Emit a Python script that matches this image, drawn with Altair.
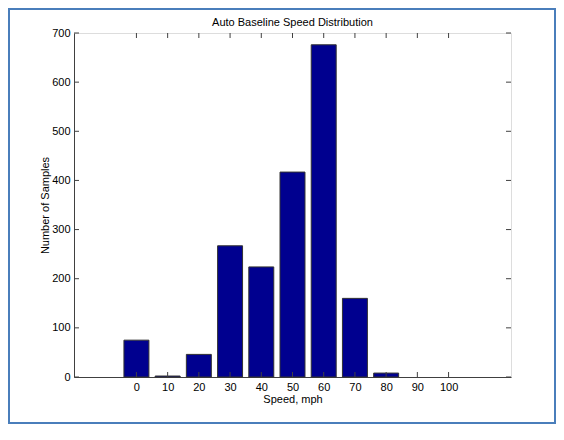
import altair as alt
import pandas as pd

speeds = [0, 10, 20, 30, 40, 50, 60, 70, 80, 90, 100]
samples = [75, 2, 46, 267, 224, 417, 676, 160, 8, 0, 0]
x_ticks = [0, 10, 20, 30, 40, 50, 60, 70, 80, 90, 100]
y_ticks = [0, 100, 200, 300, 400, 500, 600, 700]
title_text = ["Auto Baseline Speed Distribution"]

W, H = 437, 344
FONT = "Liberation Sans"
AXC = "#404040"

bars_df = pd.DataFrame({"speed": speeds, "samples": samples})
xt_df = pd.DataFrame({"t": x_ticks})
yt_df = pd.DataFrame({"t": y_ticks})

xscale = alt.Scale(domain=[-20, 120], nice=False, zero=False)
yscale = alt.Scale(domain=[0, 700], nice=False)

bars = alt.Chart(bars_df).transform_filter("datum.samples > 0").transform_calculate(
    x0="datum.speed - 4", x1="datum.speed + 4"
).mark_bar(color="#00008F", stroke="#333333", strokeWidth=1).encode(
    x=alt.X("x0:Q", scale=xscale,
            axis=alt.Axis(values=x_ticks, title="Speed, mph", ticks=False,
                          labelFont=FONT, labelFontSize=11, labelColor="black",
                          titleFont=FONT, titleFontSize=11, titleFontWeight="normal",
                          titleColor="black", labelPadding=4, titlePadding=1,
                          domainColor=AXC, grid=False)),
    x2="x1:Q",
    y=alt.Y("samples:Q", scale=yscale,
            axis=alt.Axis(values=y_ticks, title="Number of Samples", ticks=False,
                          labelFont=FONT, labelFontSize=11, labelColor="black",
                          titleFont=FONT, titleFontSize=11, titleFontWeight="normal",
                          titleColor="black", labelPadding=4, titlePadding=1,
                          domainColor=AXC, grid=False)),
    y2=alt.datum(0),
)

xt_bottom = alt.Chart(xt_df).mark_rule(color=AXC).encode(
    x=alt.X("t:Q", scale=xscale), y=alt.value(H), y2=alt.value(H - 5))
xt_top = alt.Chart(xt_df).mark_rule(color=AXC).encode(
    x=alt.X("t:Q", scale=xscale), y=alt.value(0), y2=alt.value(5))
yt_left = alt.Chart(yt_df).mark_rule(color=AXC).encode(
    y=alt.Y("t:Q", scale=yscale), x=alt.value(0), x2=alt.value(5))
yt_right = alt.Chart(yt_df).mark_rule(color=AXC).encode(
    y=alt.Y("t:Q", scale=yscale), x=alt.value(W), x2=alt.value(W - 5))

frame = alt.Chart(pd.DataFrame({"a": [0]})).mark_rect(
    fill=None, stroke="#4a7ebb", strokeWidth=2).encode(
    x=alt.value(-65), x2=alt.value(481), y=alt.value(-24), y2=alt.value(390))

title = alt.Chart(pd.DataFrame({"t": title_text})).mark_text(
    font=FONT, fontSize=11, color="black", baseline="alphabetic", align="center"
).encode(text="t:N", x=alt.value(W / 2), y=alt.value(-7))

chart = alt.layer(frame, bars, xt_bottom, xt_top, yt_left, yt_right, title).properties(
    width=W, height=H,
    autosize=alt.AutoSizeParams(type="none"),
    padding={"left": 66, "top": 25, "right": 45, "bottom": 48},
).configure_view(stroke=AXC, strokeWidth=1).configure(background="white")

chart.save("out.html", embed_options={"renderer": "svg", "actions": False})
